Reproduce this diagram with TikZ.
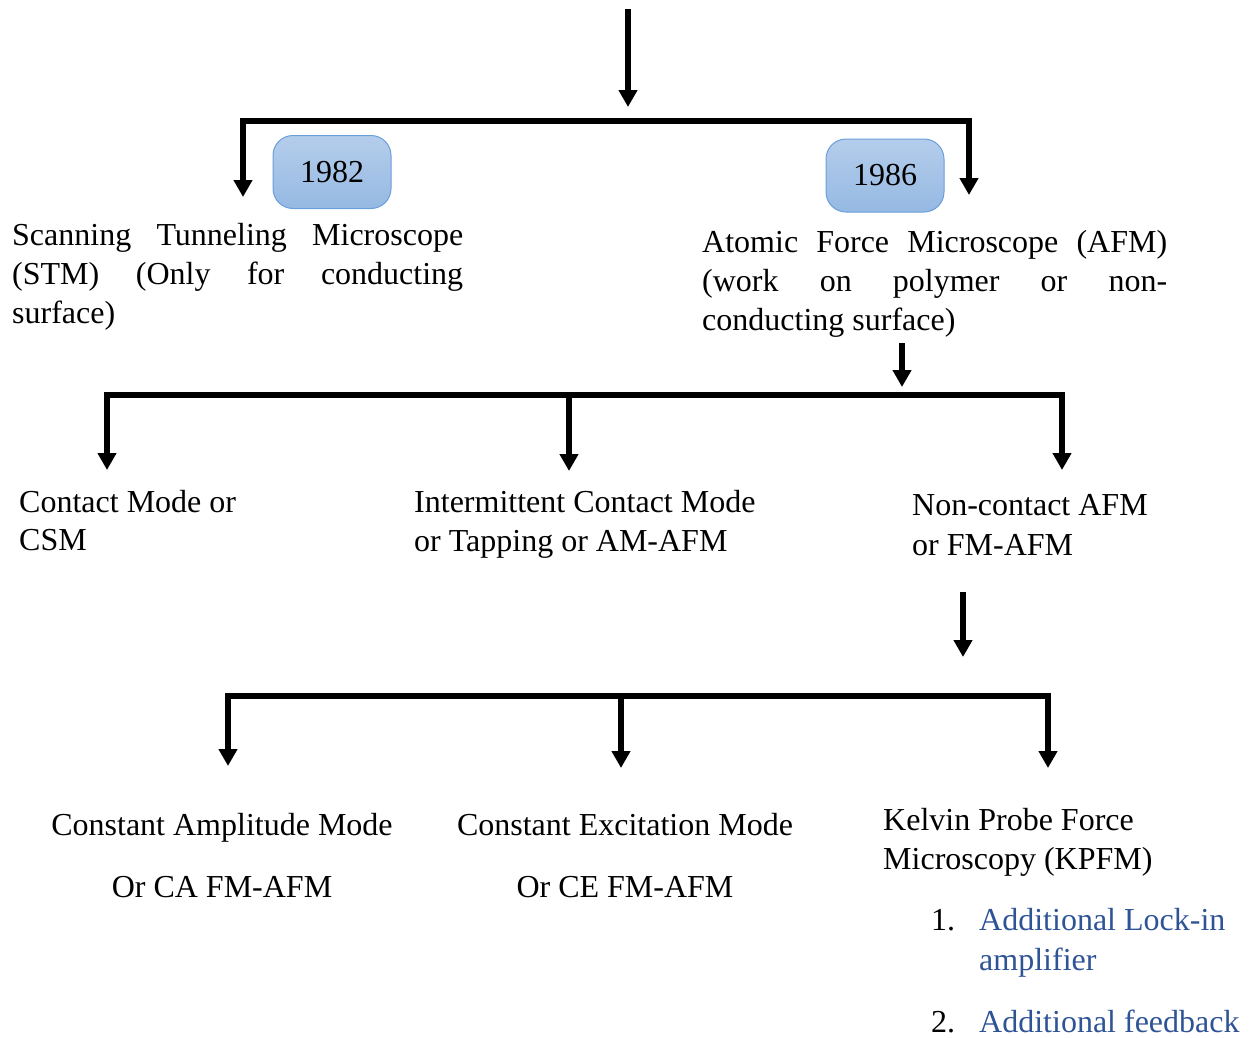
\documentclass[tikz,border=0pt]{standalone}
\usepackage{fontspec}
\setmainfont{Liberation Serif}
\usetikzlibrary{arrows.meta}
\definecolor{boxtop}{HTML}{B5CDEB}
\definecolor{boxbot}{HTML}{95B9E3}
\definecolor{boxline}{HTML}{6A9EDA}
\definecolor{listblue}{HTML}{2F5496}
\begin{document}
\begin{tikzpicture}[x=1pt,y=-1pt,
  txt/.style={inner sep=0pt,anchor=base west,font=\fontsize{32}{39}\selectfont},
  ctxt/.style={txt,anchor=base},
  btxt/.style={txt,text=listblue},
  conn/.style={line width=6pt},
  arr/.style={conn,-{Triangle[width=18pt,length=17pt]}},
  dbl/.style={conn,{Triangle[width=18pt,length=17pt]}-{Triangle[width=18pt,length=17pt]}},
  year/.style={rounded corners=20pt,draw=boxline,line width=1pt,top color=boxtop,bottom color=boxbot,
    minimum width=118pt,minimum height=73pt,inner sep=0pt,font=\fontsize{32}{39}\selectfont}]
\useasboundingbox (0,0) rectangle (1250,1037);

% year boxes
\node[year] (y1982) at (332,172) {1982};
\node[year] (y1986) at (885,175.5) {1986};

% texts
\node[txt] (stm1) at (12,245) {\makebox[451pt][s]{Scanning Tunneling Microscope}};
\node[txt] (stm2) at (12,284) {\makebox[451pt][s]{(STM) (Only for conducting}};
\node[txt] (stm3) at (12,323) {surface)};
\node[txt] (afm1) at (702,252) {\makebox[465pt][s]{Atomic Force Microscope (AFM)}};
\node[txt] (afm2) at (702,291) {\makebox[465pt][s]{(work on polymer or non-}};
\node[txt] (afm3) at (702,330) {conducting surface)};

\node[txt] (cm1) at (19,512) {Contact Mode or};
\node[txt] (cm2) at (19,550) {CSM};
\node[txt] (im1) at (414,512) {Intermittent Contact Mode};
\node[txt] (im2) at (414,551) {or Tapping or AM-AFM};
\node[txt] (nc1) at (912,515) {Non-contact AFM};
\node[txt] (nc2) at (912,555) {or FM-AFM};

\node[ctxt] (ca1) at (222,835) {Constant Amplitude Mode};
\node[ctxt] (ca2) at (222,897) {Or CA FM-AFM};
\node[ctxt] (ce1) at (625,835) {Constant Excitation Mode};
\node[ctxt] (ce2) at (625,897) {Or CE FM-AFM};
\node[txt] (kp1) at (883,830) {Kelvin Probe Force};
\node[txt] (kp2) at (883,869) {Microscopy (KPFM)};
\node[txt] (n1) at (931,930) {1.};
\node[btxt] (l1a) at (979,930) {Additional Lock-in};
\node[btxt] (l1b) at (979,970) {amplifier};
\node[txt] (n2) at (931,1032) {2.};
\node[btxt] (l2) at (979,1032) {Additional feedback};

% connector coordinates
\coordinate (top0) at (628,9);
\coordinate (top1) at (628,107);
\coordinate (b1L) at (243,197);
\coordinate (b1R) at (969,121);
\coordinate (b1Rt) at (969,195);
\coordinate (a0) at (902,343);
\coordinate (a1) at (902,387);
\coordinate (b2L) at (107,470);
\coordinate (b2R) at (1062,395);
\coordinate (b2Rt) at (1062,470);
\coordinate (b2M) at (569,395);
\coordinate (b2Mt) at (569,471);
\coordinate (c0) at (963,592);
\coordinate (c1) at (963,657);
\coordinate (b3L) at (228,766);
\coordinate (b3R) at (1048,696);
\coordinate (b3Rt) at (1048,768);
\coordinate (b3M) at (621,696);
\coordinate (b3Mt) at (621,768);

% connectors
\draw[arr] (top0) -- (top1);
\draw[dbl] (b1L) |- (b1R) -- (b1Rt);
\draw[arr] (a0) -- (a1);
\draw[dbl] (b2L) |- (b2R) -- (b2Rt);
\draw[arr] (b2M) -- (b2Mt);
\draw[arr] (c0) -- (c1);
\draw[dbl] (b3L) |- (b3R) -- (b3Rt);
\draw[arr] (b3M) -- (b3Mt);
\end{tikzpicture}
\end{document}
